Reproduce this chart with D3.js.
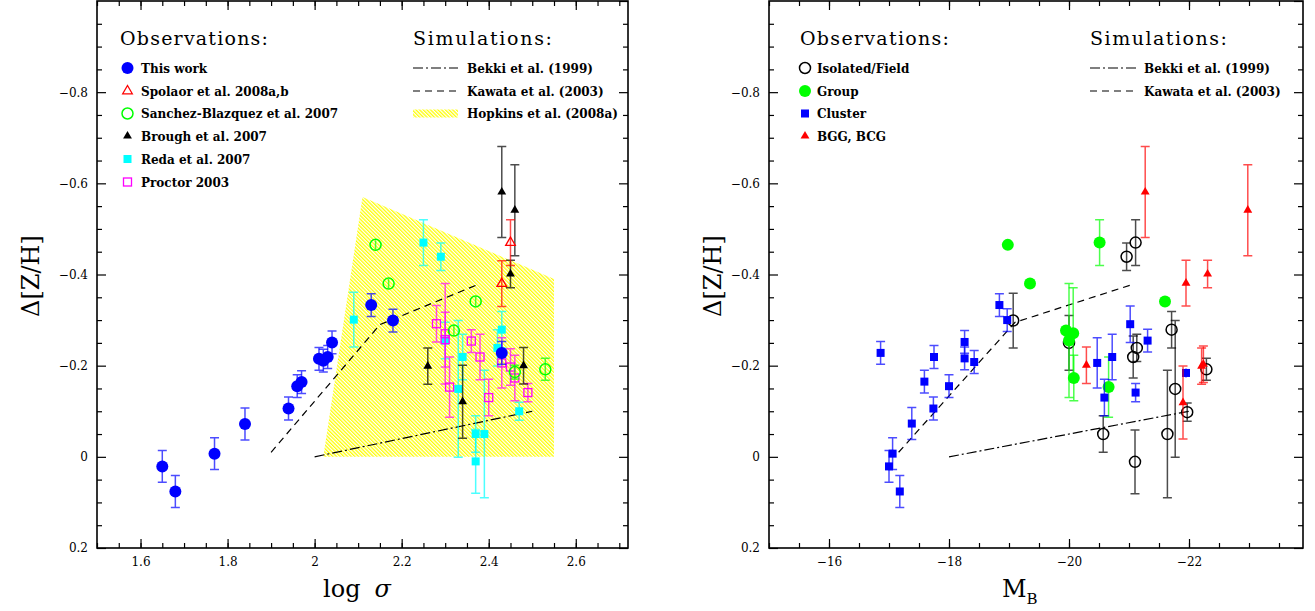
<!DOCTYPE html>
<html>
<head>
<meta charset="utf-8">
<script src="https://cdn.jsdelivr.net/npm/d3@7"></script>
<style>
body{margin:0;background:#fff;}
.axis text{font-family:"DejaVu Serif";font-size:12px;fill:#000;}
.axis line{stroke:#000;stroke-width:1.2;}
.frame{fill:none;stroke:#000;stroke-width:1.6;}
.head{font-family:"DejaVu Serif";font-size:19px;}
.item{font-family:"DejaVu Serif";font-weight:bold;font-size:12px;}
.title{font-family:"DejaVu Serif";font-size:24px;}
</style>
</head>
<body>
<svg id="chart" width="1315" height="611"></svg>
<script>

// ---- left panel: log sigma vs delta[Z/H]
var thisWork = [
  {x:1.65, y:0.021, e:0.035}, {x:1.68, y:0.076, e:0.035}, {x:1.77, y:-0.007, e:0.035},
  {x:1.84, y:-0.072, e:0.035}, {x:1.94, y:-0.106, e:0.025}, {x:1.96, y:-0.155, e:0.025},
  {x:1.97, y:-0.164, e:0.025}, {x:2.01, y:-0.215, e:0.025}, {x:2.02, y:-0.211, e:0.025},
  {x:2.03, y:-0.219, e:0.025}, {x:2.04, y:-0.251, e:0.025}, {x:2.13, y:-0.333, e:0.025},
  {x:2.18, y:-0.299, e:0.025}, {x:2.43, y:-0.228, e:0.025}
];
var spolaor = [{x:2.45, y:-0.47, e:0.05}, {x:2.43, y:-0.38, e:0.05}];
var sanchez = [
  {x:2.14, y:-0.465, e:0.01}, {x:2.17, y:-0.38, e:0.01}, {x:2.37, y:-0.341, e:0.01},
  {x:2.32, y:-0.277, e:0.012}, {x:2.46, y:-0.186, e:0.015}, {x:2.53, y:-0.192, e:0.024}
];
var brough = [
  {x:2.43, y:-0.581, e:0.1}, {x:2.46, y:-0.541, e:0.1}, {x:2.45, y:-0.401, e:0.03},
  {x:2.26, y:-0.199, e:0.04}, {x:2.34, y:-0.121, e:0.08}, {x:2.48, y:-0.2, e:0.04}
];
var reda = [
  {x:2.09, y:-0.301, e:0.06}, {x:2.25, y:-0.47, e:0.05}, {x:2.29, y:-0.439, e:0.03},
  {x:2.43, y:-0.279, e:0.04}, {x:2.42, y:-0.239, e:0.04}, {x:2.34, y:-0.219, e:0.05},
  {x:2.30, y:-0.255, e:0.04}, {x:2.33, y:-0.149, e:0.15}, {x:2.37, y:-0.05, e:0.04},
  {x:2.39, y:-0.05, e:0.14}, {x:2.37, y:0.01, e:0.07}, {x:2.47, y:-0.1, e:0.02}
];
var proctor = [
  {x:2.28, y:-0.292, e:0.04}, {x:2.30, y:-0.27, e:0.11}, {x:2.30, y:-0.257, e:0.06},
  {x:2.31, y:-0.153, e:0.066}, {x:2.36, y:-0.254, e:0.025}, {x:2.38, y:-0.219, e:0.05},
  {x:2.40, y:-0.13, e:0.04}, {x:2.43, y:-0.206, e:0.055}, {x:2.45, y:-0.197, e:0.04},
  {x:2.46, y:-0.173, e:0.05}, {x:2.49, y:-0.141, e:0.02}
];
var bekkiL   = [{x:2.0, y:0}, {x:2.5, y:-0.1}];
var kawataL  = [{x:1.9, y:-0.01}, {x:2.15, y:-0.29}, {x:2.38, y:-0.38}];
var hopkins  = [{x:2.02, y:0}, {x:2.11, y:-0.57}, {x:2.55, y:-0.39}, {x:2.55, y:0}];

// ---- right panel: M_B vs delta[Z/H]
var field = [
  {x:-19.07, y:-0.299, e:0.06}, {x:-20.0, y:-0.25, e:0.06}, {x:-20.96, y:-0.439, e:0.03},
  {x:-21.11, y:-0.47, e:0.05}, {x:-21.13, y:-0.239, e:0.03}, {x:-21.07, y:-0.219, e:0.046},
  {x:-21.71, y:-0.279, e:0.04}, {x:-21.77, y:-0.149, e:0.15}, {x:-21.97, y:-0.098, e:0.02},
  {x:-22.29, y:-0.192, e:0.024}, {x:-20.57, y:-0.05, e:0.04}, {x:-21.1, y:0.011, e:0.07},
  {x:-21.64, y:-0.05, e:0.14}
];
var group = [
  {x:-18.98, y:-0.465, e:0.01}, {x:-19.35, y:-0.38, e:0.01}, {x:-19.95, y:-0.277, e:0.012},
  {x:-20.07, y:-0.271, e:0.1}, {x:-20.0, y:-0.255, e:0.125}, {x:-20.08, y:-0.173, e:0.05},
  {x:-20.51, y:-0.47, e:0.05}, {x:-21.6, y:-0.341, e:0.01}, {x:-20.66, y:-0.153, e:0.066}
];
var cluster = [
  {x:-16.86, y:-0.228, e:0.025}, {x:-17.06, y:-0.007, e:0.035}, {x:-17.0, y:0.021, e:0.035},
  {x:-17.18, y:0.076, e:0.035}, {x:-17.38, y:-0.073, e:0.035}, {x:-17.74, y:-0.106, e:0.025},
  {x:-17.59, y:-0.165, e:0.025}, {x:-17.75, y:-0.219, e:0.025}, {x:-18.0, y:-0.155, e:0.025},
  {x:-18.26, y:-0.252, e:0.025}, {x:-18.26, y:-0.216, e:0.025}, {x:-18.42, y:-0.208, e:0.025},
  {x:-18.84, y:-0.333, e:0.025}, {x:-18.97, y:-0.3, e:0.025}, {x:-20.47, y:-0.206, e:0.055},
  {x:-20.72, y:-0.219, e:0.05}, {x:-20.59, y:-0.13, e:0.04}, {x:-21.02, y:-0.291, e:0.04},
  {x:-21.31, y:-0.255, e:0.025}, {x:-21.11, y:-0.141, e:0.02}, {x:-21.95, y:-0.184, e:0.01}
];
var bgg = [
  {x:-20.29, y:-0.201, e:0.04}, {x:-21.27, y:-0.581, e:0.1}, {x:-22.98, y:-0.541, e:0.1},
  {x:-21.95, y:-0.381, e:0.05}, {x:-22.31, y:-0.401, e:0.03}, {x:-21.9, y:-0.119, e:0.08},
  {x:-22.21, y:-0.199, e:0.04}, {x:-22.24, y:-0.203, e:0.04}
];
var bekkiR  = [{x:-18, y:0}, {x:-22, y:-0.1}];
var kawataR = [{x:-17.16, y:-0.01}, {x:-19.1, y:-0.295}, {x:-21.03, y:-0.377}];

// ---- ticks
var yMajor  = [-1.0, -0.8, -0.6, -0.4, -0.2, 0, 0.2];
var yLabels = [-0.8, -0.6, -0.4, -0.2, 0, 0.2];
var xMajorL = [1.6, 1.8, 2.0, 2.2, 2.4, 2.6];
var xMajorR = [-16, -18, -20, -22];

var svg = d3.select("#chart");

// hatch for Hopkins region
var defs = svg.append("defs");
defs.append("pattern")
  .attr("id", "hatch").attr("patternUnits", "userSpaceOnUse")
  .attr("width", 2.6).attr("height", 2.6)
  .attr("patternTransform", "rotate(-45)")
  .append("line").attr("x1", 0).attr("y1", 0).attr("x2", 0).attr("y2", 2.6)
  .attr("stroke", "#ffff00").attr("stroke-width", 2.6);

var fmt = function(d){ return d === 0 ? "0" : d3.format("~g")(d); };

function buildPanel(cfg){
  var w = cfg.right - cfg.left, h = cfg.bottom - cfg.top;
  var g = svg.append("g").attr("transform", "translate(" + cfg.left + "," + cfg.top + ")");
  var x = d3.scaleLinear().domain(cfg.xDomain).range([0, w]);
  var y = d3.scaleLinear().domain([-1.0, 0.2]).range([0, h]);

  function ax(axis, tr){
    var a = g.append("g").attr("class", "axis").attr("transform", tr).call(axis);
    a.select(".domain").remove();
  }
  var yMinor = d3.range(-1.0, 0.2001, 0.05).filter(function(v){ return Math.abs(Math.round(v*5) - v*5) > 1e-6; });
  var xMinor = d3.range(cfg.xDomain[0], cfg.xDomain[1] + (cfg.xStep > 0 ? 1e-6 : -1e-6), cfg.xStep);

  ax(d3.axisLeft(y).tickValues(yLabels).tickSize(-9).tickPadding(9).tickFormat(fmt), null);
  ax(d3.axisLeft(y).tickValues(yMinor).tickSize(-5).tickFormat(""), null);
  ax(d3.axisRight(y).tickValues(yMajor).tickSize(-9).tickFormat(""), "translate(" + w + ",0)");
  ax(d3.axisRight(y).tickValues(yMinor).tickSize(-5).tickFormat(""), "translate(" + w + ",0)");
  ax(d3.axisBottom(x).tickValues(cfg.xMajor).tickSize(-9).tickPadding(9).tickFormat(fmt), "translate(0," + h + ")");
  ax(d3.axisBottom(x).tickValues(xMinor).tickSize(-5).tickFormat(""), "translate(0," + h + ")");
  ax(d3.axisTop(x).tickValues(cfg.xMajor).tickSize(-9).tickFormat(""), null);
  ax(d3.axisTop(x).tickValues(xMinor).tickSize(-5).tickFormat(""), null);

  g.append("rect").attr("class", "frame").attr("width", w).attr("height", h);

  var line = d3.line().x(function(d){ return x(d.x); }).y(function(d){ return y(d.y); });

  var api = {
    g: g, x: x, y: y,
    poly: function(data){
      g.append("path").attr("d", line(data) + "Z").attr("fill", "url(#hatch)");
    },
    sim: function(data, dash){
      g.append("path").attr("d", line(data)).attr("fill", "none")
        .attr("stroke", "#000").attr("stroke-width", 1.2).attr("stroke-dasharray", dash);
    },
    series: function(data, color, marker, barColor){
      g.append("g").selectAll("path").data(data).join("path")
        .attr("d", function(d){
          var px = x(d.x), y0 = y(d.y - d.e), y1 = y(d.y + d.e);
          var s = "M" + px + "," + y0 + "V" + y1;
          if (y1 - y0 > 12) s += "M" + (px - 4.5) + "," + y0 + "h9M" + (px - 4.5) + "," + y1 + "h9";
          return s;
        })
        .attr("fill", "none").attr("stroke", barColor || color)
        .attr("stroke-opacity", 0.7).attr("stroke-width", 1.5);
      var mg = g.append("g");
      data.forEach(function(d){ drawMarker(mg, marker, color, x(d.x), y(d.y)); });
    }
  };
  return api;
}

function drawMarker(g, type, color, px, py){
  if (type === "circleF") {
    g.append("circle").attr("cx", px).attr("cy", py).attr("r", 6).attr("fill", color);
  } else if (type === "circleO") {
    g.append("circle").attr("cx", px).attr("cy", py).attr("r", 5.5)
      .attr("fill", "none").attr("stroke", color).attr("stroke-width", 1.5);
  } else if (type === "squareF") {
    g.append("rect").attr("x", px - 4).attr("y", py - 4).attr("width", 8).attr("height", 8).attr("fill", color);
  } else if (type === "squareO") {
    g.append("rect").attr("x", px - 4).attr("y", py - 4).attr("width", 8).attr("height", 8)
      .attr("fill", "none").attr("stroke", color).attr("stroke-width", 1.3);
  } else if (type === "triF") {
    g.append("path").attr("transform", "translate(" + px + "," + py + ")")
      .attr("d", d3.symbol(d3.symbolTriangle, 34)()).attr("fill", color);
  } else if (type === "triO") {
    g.append("path").attr("transform", "translate(" + px + "," + py + ")")
      .attr("d", d3.symbol(d3.symbolTriangle, 40)()).attr("fill", "none")
      .attr("stroke", color).attr("stroke-width", 1.3);
  }
}

function legend(items, mx, tx, rows){
  items.forEach(function(it, i){
    drawMarker(svg, it[1], it[2], mx, rows[i]);
    svg.append("text").attr("class", "item").attr("x", tx).attr("y", rows[i] + 4.5).text(it[0]);
  });
}
function simLegend(items, x0, x1, tx, rows){
  items.forEach(function(it, i){
    if (it[1] === "hatch") {
      svg.append("rect").attr("x", x0).attr("y", rows[i] - 4).attr("width", x1 - x0).attr("height", 8)
        .attr("fill", "url(#hatch)");
    } else {
      svg.append("line").attr("x1", x0).attr("x2", x1).attr("y1", rows[i]).attr("y2", rows[i])
        .attr("stroke", "#000").attr("stroke-width", 1.2).attr("stroke-dasharray", it[1]);
    }
    svg.append("text").attr("class", "item").attr("x", tx).attr("y", rows[i] + 4.5).text(it[0]);
  });
}

var dashDot = "10,3,2,3", dashed = "7,5";
var rows = [68, 91, 113.5, 136, 159, 182];

// ---- left
var L = buildPanel({left:97, right:628, top:1, bottom:548, xDomain:[1.5, 2.72], xMajor:xMajorL, xStep:0.05});
L.poly(hopkins);
L.sim(bekkiL, dashDot);
L.sim(kawataL, dashed);
L.series(reda, "#00ffff", "squareF");
L.series(proctor, "#ff00ff", "squareO");
L.series(sanchez, "#00ff00", "circleO");
L.series(brough, "#000000", "triF");
L.series(spolaor, "#ff0000", "triO");
L.series(thisWork, "#0000ff", "circleF");

svg.append("text").attr("class", "head").attr("x", 120).attr("y", 45)
  .attr("textLength", 148).attr("lengthAdjust", "spacing").text("Observations:");
svg.append("text").attr("class", "head").attr("x", 413).attr("y", 45)
  .attr("textLength", 139).attr("lengthAdjust", "spacing").text("Simulations:");
legend([
  ["This work", "circleF", "#0000ff"],
  ["Spolaor et al. 2008a,b", "triO", "#ff0000"],
  ["Sanchez-Blazquez et al. 2007", "circleO", "#00ff00"],
  ["Brough et al. 2007", "triF", "#000000"],
  ["Reda et al. 2007", "squareF", "#00ffff"],
  ["Proctor 2003", "squareO", "#ff00ff"]
], 127.5, 141, rows);
simLegend([
  ["Bekki et al. (1999)", dashDot],
  ["Kawata et al. (2003)", dashed],
  ["Hopkins et al. (2008a)", "hatch"]
], 413, 458, 467, rows);

// ---- right
var R = buildPanel({left:769, right:1303, top:1, bottom:548, xDomain:[-15, -23.9], xMajor:xMajorR, xStep:-0.5});
R.sim(bekkiR, dashDot);
R.sim(kawataR, dashed);
R.series(field, "#000000", "circleO");
R.series(group, "#00ff00", "circleF");
R.series(cluster, "#0000ff", "squareF");
R.series(bgg, "#ff0000", "triF");

svg.append("text").attr("class", "head").attr("x", 800).attr("y", 45)
  .attr("textLength", 149).attr("lengthAdjust", "spacing").text("Observations:");
svg.append("text").attr("class", "head").attr("x", 1090).attr("y", 45)
  .attr("textLength", 137).attr("lengthAdjust", "spacing").text("Simulations:");
legend([
  ["Isolated/Field", "circleO", "#000000"],
  ["Group", "circleF", "#00ff00"],
  ["Cluster", "squareF", "#0000ff"],
  ["BGG, BCG", "triF", "#ff0000"]
], 805, 817, rows);
simLegend([
  ["Bekki et al. (1999)", dashDot],
  ["Kawata et al. (2003)", dashed]
], 1090, 1137, 1144, rows);

// ---- axis titles
svg.append("text").attr("class", "title").attr("text-anchor", "middle")
  .attr("transform", "translate(39,276) rotate(-90)").text("Δ[Z/H]");
svg.append("text").attr("class", "title").attr("text-anchor", "middle")
  .attr("transform", "translate(721,276) rotate(-90)").text("Δ[Z/H]");

var t1 = svg.append("text").attr("class", "title").attr("x", 323).attr("y", 597);
t1.append("tspan").text("log");
t1.append("tspan").attr("dx", 14).attr("font-style", "italic").text("σ");

var t2 = svg.append("text").attr("class", "title").attr("x", 1002).attr("y", 597);
t2.append("tspan").text("M");
t2.append("tspan").attr("font-size", "15px").attr("dy", 7).text("B");

</script>
</body>
</html>
